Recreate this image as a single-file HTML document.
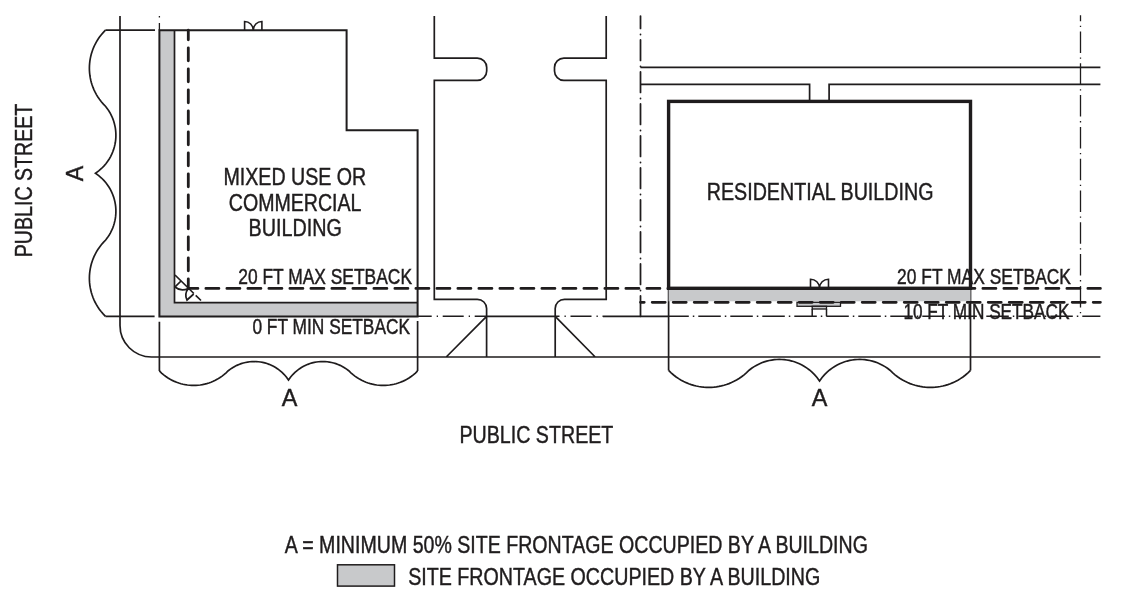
<!DOCTYPE html>
<html><head><meta charset="utf-8"><title>Site frontage diagram</title>
<style>html,body{margin:0;padding:0;background:#fff;} svg{display:block;}</style></head>
<body><svg width="1126" height="599" viewBox="0 0 1126 599" style="will-change:transform">
<rect width="1126" height="599" fill="#fff"/>
<path d="M120,16 V325.5 A31.5,31.5 0 0 0 151.5,357 H1100.4 M105.4,30.2 H155 M105.4,316.3 H154.6 M434.3,16 V58.2 H477.3 A9.4,9.4 0 0 1 486.7,67.6 V70.9 A9.4,9.4 0 0 1 477.3,80.3 H434.3 V299.3 H477.3 A9.3,9.3 0 0 1 486.6,308.6 V357 M486.6,316.3 L446.2,357 M606.2,16 V58.2 H563.9 A9.4,9.4 0 0 0 554.5,67.6 V70.9 A9.4,9.4 0 0 0 563.9,80.3 H606.2 V299.3 H564.5 A9.3,9.3 0 0 0 555.2,308.6 V357 M555.2,316.3 L595.2,357 M486.6,316.3 H555.2 M603,316.3 H668.6 M640.5,67.3 H1100.4 M640.5,84.4 H809.6 V101 M829.1,101 V84.4 H1100.4 M159.4,321.7 V371 M417.6,321 V371 M668.6,288 V370.5 M970.5,288 V370.5" fill="none" stroke="#1f1c1d" stroke-width="1.7"/>
<path d="M105.45,30.2 L103.15,32.58 L101.11,34.97 L99.3,37.35 L97.69,39.74 L96.26,42.12 L94.99,44.51 L93.87,46.89 L92.89,49.27 L92.05,51.66 L91.32,54.04 L90.72,56.43 L90.23,58.81 L89.86,61.19 L89.6,63.58 L89.44,65.96 L89.39,68.35 L89.45,70.73 L89.62,73.11 L89.9,75.5 L90.28,77.88 L90.78,80.27 L91.4,82.65 L92.13,85.04 L93,87.42 L93.99,89.8 L95.12,92.19 L96.41,94.57 L97.86,96.96 L99.49,99.34 L101.33,101.73 L103.39,104.11 L105.68,106.49 L107.49,108.88 L109.08,111.26 L110.46,113.65 L111.65,116.03 L112.68,118.41 L113.55,120.8 L114.28,123.18 L114.86,125.57 L115.32,127.95 L115.64,130.34 L115.83,132.72 L115.9,135.1 L115.85,137.49 L115.67,139.87 L115.36,142.26 L114.92,144.64 L114.35,147.02 L113.64,149.41 L112.79,151.79 L111.78,154.18 L110.6,156.56 L109.24,158.94 L107.68,161.33 L105.9,163.71 L103.84,166.1 L101.48,168.48 L98.71,170.87 L95.42,173.25 L98.71,175.63 L101.48,178.02 L103.84,180.4 L105.9,182.79 L107.68,185.17 L109.24,187.56 L110.6,189.94 L111.78,192.32 L112.79,194.71 L113.64,197.09 L114.35,199.48 L114.92,201.86 L115.36,204.24 L115.67,206.63 L115.85,209.01 L115.9,211.4 L115.83,213.78 L115.64,216.17 L115.32,218.55 L114.86,220.93 L114.28,223.32 L113.55,225.7 L112.68,228.09 L111.65,230.47 L110.46,232.85 L109.08,235.24 L107.49,237.62 L105.68,240.01 L103.39,242.39 L101.33,244.78 L99.49,247.16 L97.86,249.54 L96.41,251.93 L95.12,254.31 L93.99,256.7 L93,259.08 L92.13,261.46 L91.4,263.85 L90.78,266.23 L90.28,268.62 L89.9,271 L89.62,273.38 L89.45,275.77 L89.39,278.15 L89.44,280.54 L89.6,282.92 L89.86,285.31 L90.23,287.69 L90.72,290.07 L91.32,292.46 L92.05,294.84 L92.89,297.23 L93.87,299.61 L94.99,302 L96.26,304.38 L97.69,306.76 L99.3,309.15 L101.11,311.53 L103.15,313.92 L105.45,316.3 M159.4,370.95 L161.55,373.03 L163.7,374.87 L165.86,376.5 L168.01,377.96 L170.16,379.25 L172.31,380.39 L174.46,381.4 L176.61,382.29 L178.77,383.05 L180.92,383.7 L183.07,384.25 L185.22,384.69 L187.37,385.02 L189.52,385.26 L191.68,385.4 L193.83,385.44 L195.98,385.39 L198.13,385.24 L200.28,384.99 L202.43,384.64 L204.59,384.19 L206.74,383.64 L208.89,382.97 L211.04,382.19 L213.19,381.3 L215.34,380.27 L217.5,379.11 L219.65,377.8 L221.8,376.33 L223.95,374.67 L226.1,372.81 L228.25,370.75 L230.41,369.11 L232.56,367.68 L234.71,366.44 L236.86,365.36 L239.01,364.43 L241.16,363.64 L243.31,362.99 L245.47,362.46 L247.62,362.05 L249.77,361.76 L251.92,361.58 L254.07,361.52 L256.23,361.57 L258.38,361.73 L260.53,362.01 L262.68,362.41 L264.83,362.92 L266.98,363.56 L269.14,364.33 L271.29,365.25 L273.44,366.31 L275.59,367.53 L277.74,368.94 L279.89,370.55 L282.05,372.4 L284.2,374.54 L286.35,377.04 L288.5,380.01 L290.65,377.04 L292.8,374.54 L294.96,372.4 L297.11,370.55 L299.26,368.94 L301.41,367.53 L303.56,366.31 L305.71,365.25 L307.87,364.33 L310.02,363.56 L312.17,362.92 L314.32,362.41 L316.47,362.01 L318.62,361.73 L320.78,361.57 L322.93,361.52 L325.08,361.58 L327.23,361.76 L329.38,362.05 L331.53,362.46 L333.69,362.99 L335.84,363.64 L337.99,364.43 L340.14,365.36 L342.29,366.44 L344.44,367.68 L346.6,369.11 L348.75,370.75 L350.9,372.81 L353.05,374.67 L355.2,376.33 L357.35,377.8 L359.51,379.11 L361.66,380.27 L363.81,381.3 L365.96,382.19 L368.11,382.97 L370.26,383.64 L372.42,384.19 L374.57,384.64 L376.72,384.99 L378.87,385.24 L381.02,385.39 L383.17,385.44 L385.33,385.4 L387.48,385.26 L389.63,385.02 L391.78,384.69 L393.93,384.25 L396.08,383.7 L398.24,383.05 L400.39,382.29 L402.54,381.4 L404.69,380.39 L406.84,379.25 L408.99,377.96 L411.15,376.5 L413.3,374.87 L415.45,373.03 L417.6,370.95 M668.6,370.44 L671.12,372.87 L673.63,375.02 L676.15,376.94 L678.66,378.63 L681.18,380.15 L683.7,381.48 L686.21,382.66 L688.73,383.7 L691.24,384.59 L693.76,385.35 L696.27,385.99 L698.79,386.5 L701.31,386.9 L703.82,387.18 L706.34,387.34 L708.85,387.39 L711.37,387.33 L713.88,387.15 L716.4,386.86 L718.92,386.45 L721.43,385.92 L723.95,385.27 L726.46,384.5 L728.98,383.59 L731.5,382.54 L734.01,381.34 L736.53,379.99 L739.04,378.45 L741.56,376.73 L744.08,374.8 L746.59,372.62 L749.11,370.2 L751.62,368.29 L754.14,366.62 L756.65,365.16 L759.17,363.9 L761.69,362.82 L764.2,361.9 L766.72,361.13 L769.23,360.51 L771.75,360.04 L774.26,359.7 L776.78,359.49 L779.3,359.42 L781.81,359.48 L784.33,359.67 L786.84,359.99 L789.36,360.45 L791.88,361.05 L794.39,361.8 L796.91,362.71 L799.42,363.77 L801.94,365.01 L804.46,366.45 L806.97,368.09 L809.49,369.98 L812,372.14 L814.52,374.64 L817.03,377.56 L819.55,381.03 L822.07,377.56 L824.58,374.64 L827.1,372.14 L829.61,369.98 L832.13,368.09 L834.64,366.45 L837.16,365.01 L839.68,363.77 L842.19,362.71 L844.71,361.8 L847.22,361.05 L849.74,360.45 L852.26,359.99 L854.77,359.67 L857.29,359.48 L859.8,359.42 L862.32,359.49 L864.84,359.7 L867.35,360.04 L869.87,360.51 L872.38,361.13 L874.9,361.9 L877.41,362.82 L879.93,363.9 L882.45,365.16 L884.96,366.62 L887.48,368.29 L889.99,370.2 L892.51,372.62 L895.02,374.8 L897.54,376.73 L900.06,378.45 L902.57,379.99 L905.09,381.34 L907.6,382.54 L910.12,383.59 L912.64,384.5 L915.15,385.27 L917.67,385.92 L920.18,386.45 L922.7,386.86 L925.22,387.15 L927.73,387.33 L930.25,387.39 L932.76,387.34 L935.28,387.18 L937.79,386.9 L940.31,386.5 L942.83,385.99 L945.34,385.35 L947.86,384.59 L950.37,383.7 L952.89,382.66 L955.4,381.48 L957.92,380.15 L960.44,378.63 L962.95,376.94 L965.47,375.02 L967.98,372.87 L970.5,370.44" fill="none" stroke="#1f1c1d" stroke-width="1.7" stroke-linejoin="miter"/>
<path d="M159.4,30.2 H174.5 V302.6 H417.6 V316.4 H159.4 Z" fill="#c8c9cb" stroke="none"/>
<path d="M174.5,30.2 V302.6 H417.6" fill="none" stroke="#1f1c1d" stroke-width="1.7"/>
<path d="M159.4,30.2 H346.6 V130.2 H417.6 V316.4 H159.4 Z" fill="none" stroke="#1f1c1d" stroke-width="2"/>
<rect x="668.6" y="289.8" width="301.9" height="11.5" fill="#c8c9cb"/>
<rect x="668.6" y="101.4" width="301.9" height="186.9" fill="none" stroke="#1f1c1d" stroke-width="3.4"/>
<rect x="797" y="302.3" width="43.5" height="4" fill="#c8c9cb" stroke="#1f1c1d" stroke-width="1.3"/>
<rect x="812.2" y="306.3" width="14.3" height="2.7" fill="#c8c9cb" stroke="#1f1c1d" stroke-width="1.3"/>
<path d="M812.2,309 V316.3 M826.5,309 V316.3" fill="none" stroke="#1f1c1d" stroke-width="1.5"/>
<path d="M188.3,30.2 V288.4" fill="none" stroke="#1f1c1d" stroke-width="2.8" stroke-dasharray="13 8" stroke-dashoffset="3.4" stroke-linecap="round"/>
<path d="M188.3,288.4 H1100.4" fill="none" stroke="#1f1c1d" stroke-width="2.8" stroke-dasharray="13 8" stroke-dashoffset="3.4" stroke-linecap="round"/>
<path d="M640.5,302.3 H1100.4" fill="none" stroke="#1f1c1d" stroke-width="2.8" stroke-dasharray="13 8" stroke-dashoffset="9.3" stroke-linecap="round"/>
<path d="M159.4,16 V30.2" fill="none" stroke="#1f1c1d" stroke-width="1.3" stroke-dasharray="1.5 5.5 20"/>
<path d="M640.5,16 V316.3" fill="none" stroke="#1f1c1d" stroke-width="1.75" stroke-linecap="round" stroke-dasharray="20.5 6 0.2 5.3" stroke-dashoffset="8.1"/>
<path d="M1080.5,15.2 V316" fill="none" stroke="#1f1c1d" stroke-width="1.3" stroke-dasharray="21.5 4.5 1.3 4.5" stroke-dashoffset="15.5"/>
<path d="M417.6,316.3 H486.6" fill="none" stroke="#1f1c1d" stroke-width="1.4" stroke-dasharray="21 5 1.3 4.7" stroke-dashoffset="6.9"/>
<path d="M555.2,316.3 H603" fill="none" stroke="#1f1c1d" stroke-width="1.4" stroke-dasharray="21 5 1.3 4.7" stroke-dashoffset="16.7"/>
<path d="M668.6,316.3 H1100.4" fill="none" stroke="#1f1c1d" stroke-width="1.4" stroke-dasharray="22.5 4 1.5 4" stroke-dashoffset="2.3"/>
<path d="M244.6,30.2 V21.5 A8.65,8.7 0 0 1 253.25,30.2 M261.9,30.2 V21.5 A8.65,8.7 0 0 0 253.25,30.2 M810.5,288 V279.2 A9,8.8 0 0 1 819.5,288 M828.5,288 V279.2 A9,8.8 0 0 0 819.5,288" fill="none" stroke="#1f1c1d" stroke-width="1.6"/>
<path d="M175,275 L201,300.5" fill="none" stroke="#1f1c1d" stroke-width="1.7" stroke-dasharray="26.4 2.6 8"/>
<path d="M181,281 L175,287 Q181,292 188.3,288.4 M193.7,294 L187,300 Q184,294 188.3,288.4" fill="none" stroke="#1f1c1d" stroke-width="1.7"/>
<rect x="337.5" y="564.8" width="57" height="21.3" fill="#c8c9cb" stroke="#1f1c1d" stroke-width="1.5"/>
<g font-family="Liberation Sans, sans-serif" fill="#1f1c1d" stroke="#1f1c1d" stroke-width="0.45"><text transform="translate(32.1,257.2) rotate(-90) scale(0.7995,1)" font-size="24.5">PUBLIC STREET</text>
<text transform="translate(82.8,181.36) rotate(-90) scale(0.9433,1)" font-size="24.5">A</text>
<text transform="translate(223.5,184.8) scale(0.8006,1)" font-size="24.5">MIXED USE OR</text>
<text transform="translate(228.8,210.6) scale(0.7988,1)" font-size="24.5">COMMERCIAL</text>
<text transform="translate(248.59,236.3) scale(0.8062,1)" font-size="24.5">BUILDING</text>
<text transform="translate(238.2,283.7) scale(0.8065,1)" font-size="21.6">20 FT MAX SETBACK</text>
<text transform="translate(252.4,333.5) scale(0.8031,1)" font-size="21.6">0 FT MIN SETBACK</text>
<text transform="translate(706.69,199.5) scale(0.8039,1)" font-size="24.5">RESIDENTIAL BUILDING</text>
<text transform="translate(897.09,283.7) scale(0.8070,1)" font-size="21.6">20 FT MAX SETBACK</text>
<text transform="translate(903.4,319.4) scale(0.7976,1)" font-size="21.6">10 FT MIN SETBACK</text>
<text transform="translate(281.74,405.8) scale(0.9552,1)" font-size="24.5">A</text>
<text transform="translate(811.74,405.8) scale(0.9552,1)" font-size="24.5">A</text>
<text transform="translate(459.5,442.6) scale(0.8021,1)" font-size="24.5">PUBLIC STREET</text>
<text transform="translate(284.8,552.7) scale(0.7997,1)" font-size="24.5">A = MINIMUM 50% SITE FRONTAGE OCCUPIED BY A BUILDING</text>
<text transform="translate(408.2,585.2) scale(0.8025,1)" font-size="24.5">SITE FRONTAGE OCCUPIED BY A BUILDING</text></g>
</svg></body></html>
